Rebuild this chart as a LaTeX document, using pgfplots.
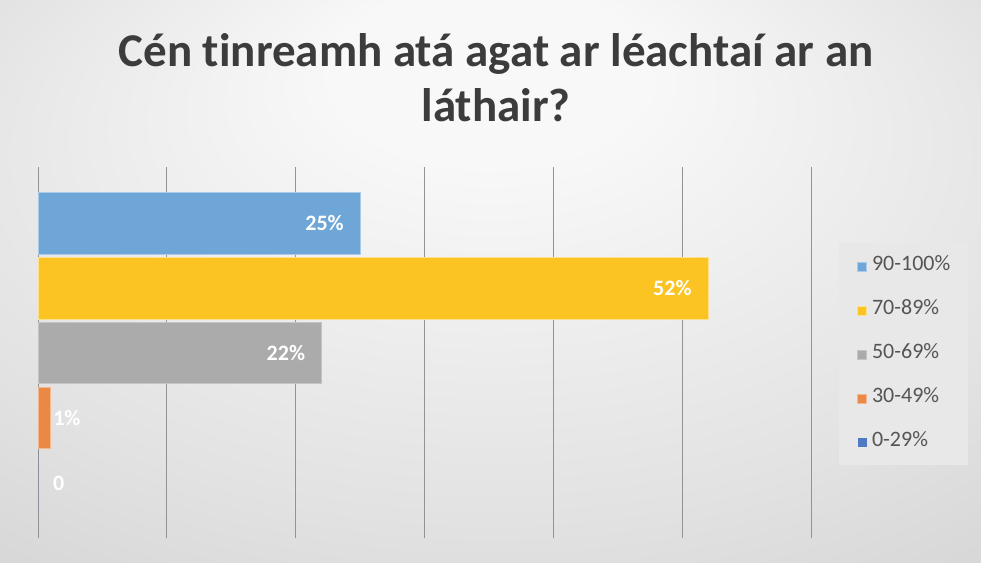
\documentclass[border=0pt]{standalone}
\usepackage{pgfplots}
\pgfplotsset{compat=1.18}
\usepackage{fontspec}
\setmainfont{Carlito}[Ligatures={NoCommon,NoRare,NoContextual}]
\definecolor{cblue}{HTML}{6FA6D8}
\definecolor{cyellow}{HTML}{FBC422}
\definecolor{cgray}{HTML}{ABABAB}
\definecolor{corange}{HTML}{EB8845}
\definecolor{cdblue}{HTML}{4E79C3}
\definecolor{titlec}{HTML}{3C3C3C}
\definecolor{legc}{HTML}{555555}
\definecolor{legbg}{HTML}{E8E8E8}
\definecolor{bgin}{HTML}{F8F8F8}
\definecolor{bgmid}{HTML}{E2E2E2}
\definecolor{bgout}{HTML}{CACACA}
\pgfdeclareradialshading{bgshade}{\pgfpoint{0bp}{22bp}}{color(0bp)=(bgin); color(8bp)=(bgin); color(30bp)=(bgmid); color(50bp)=(bgout)}
\begin{document}
\begin{tikzpicture}[x=1pt,y=1pt]
\path[use as bounding box] (0,0) rectangle (981,562);
\shade[shading=bgshade] (0,0) rectangle (981,562);
\node[font=\fontsize{47}{55}\selectfont\bfseries, text=titlec, anchor=base, inner sep=0pt] at (496,495) {Cén tinreamh atá agat ar léachtaí ar an};
\node[font=\fontsize{47}{55}\selectfont\bfseries, text=titlec, anchor=base, inner sep=0pt] at (496,440) {láthair?};
\begin{axis}[
  at={(38pt,24pt)}, anchor=south west,
  scale only axis, width=773pt, height=371pt,
  xbar, bar width=0.95, bar shift=0pt,
  xmin=0, xmax=60, xtick={0,10,...,60}, xticklabels={},
  ymin=-0.862, ymax=4.846, y dir=reverse, ytick=\empty,
  major tick length=0pt,
  xmajorgrids, grid style={color=gray!85, line width=1pt},
  axis line style={draw=none},
  clip=false,
  every axis plot/.append style={bar shift=0pt},
  legend style={at={(1.12,0.496)}, anchor=center, draw=none, fill=legbg,
    font=\fontsize{22}{22}\selectfont, text=legc,
    inner xsep=18pt, inner ysep=14pt, row sep=26pt, column sep=5pt,
    nodes={inner sep=0pt, text height=14pt, text depth=4pt, anchor=base west}},
  legend cell align=left,
  legend image code/.code={\fill[#1] (0pt,0pt) rectangle (9pt,9pt);},
  nodes near coords style={inner sep=0pt, text=white, font=\fontsize{22}{22}\selectfont\bfseries},
]
\addplot[fill=cblue, draw=cblue!60!white, line width=0.8pt,
  nodes near coords={25\%}, nodes near coords style={anchor=east, xshift=-16pt}]
  coordinates {(25,0)};
\addlegendentry{90-100\%}
\addplot[fill=cyellow, draw=cyellow!50!white, line width=0.8pt,
  nodes near coords={52\%}, nodes near coords style={anchor=east, xshift=-16pt}]
  coordinates {(52,1)};
\addlegendentry{70-89\%}
\addplot[fill=cgray, draw=cgray!70!white, line width=0.8pt,
  nodes near coords={22\%}, nodes near coords style={anchor=east, xshift=-16pt}]
  coordinates {(22,2)};
\addlegendentry{50-69\%}
\addplot[fill=corange, draw=corange!60!white, line width=0.8pt,
  nodes near coords={1\%}, nodes near coords style={anchor=west, xshift=2pt}]
  coordinates {(1,3)};
\addlegendentry{30-49\%}
\addplot[fill=cdblue, draw=none,
  nodes near coords={0}, nodes near coords style={anchor=west, xshift=15pt}]
  coordinates {(0,4)};
\addlegendentry{0-29\%}
\end{axis}
\end{tikzpicture}
\end{document}
